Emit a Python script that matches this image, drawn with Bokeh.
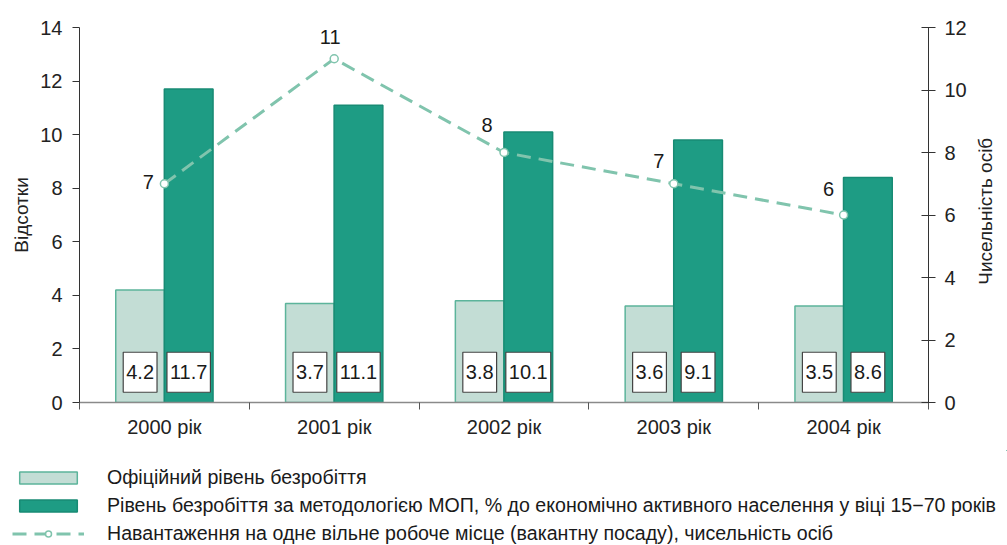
import math
from bokeh.plotting import figure
from bokeh.layouts import row
from bokeh.models import (Range1d, LinearAxis, FixedTicker, ColumnDataSource,
                          Legend, LegendItem, Label)
from bokeh.core.properties import value
from bokeh.transform import dodge
from bokeh.embed import file_html
from bokeh.resources import INLINE

# ---------------- data ----------------
categories = ["2000 рік", "2001 рік", "2002 рік", "2003 рік", "2004 рік"]
official_rate = [4.2, 3.7, 3.8, 3.6, 3.6]          # bar heights, %
ilo_rate = [11.7, 11.1, 10.1, 9.8, 8.4]            # bar heights, %
official_labels = ["4.2", "3.7", "3.8", "3.6", "3.5"]
ilo_labels = ["11.7", "11.1", "10.1", "9.1", "8.6"]
load_per_vacancy = [7, 11, 8, 7, 6]                # persons per vacancy
load_labels = ["7", "11", "8", "7", "6"]
left_ticks = [0, 2, 4, 6, 8, 10, 12, 14]
right_ticks = [0, 2, 4, 6, 8, 10, 12]
left_title = "Відсотки"
right_title = "Чисельність осіб"

legend_labels = [
    "Офіційний рівень безробіття",
    "Рівень безробіття за методологією МОП, % до економічно активного населення у віці 15−70 років",
    "Навантаження на одне вільне робоче місце (вакантну посаду), чисельність осіб",
]

# ---------------- styles ----------------
LIGHT = "#c3ddd5"
LIGHT_EDGE = "#5cb49b"
DARK = "#1e9c84"
DARK_EDGE = "#188b74"
LINE = "#80c4ad"
FONT = "'Liberation Sans', Arial, sans-serif"

label_dx = [-16, -4, -17, -15, -15]
label_dy = [-2, -22, -28, -23, -26]

n = len(categories)
centers = [i + 0.5 for i in range(n)]

src = ColumnDataSource(dict(
    x=centers, official=official_rate, ilo=ilo_rate,
    off_lab=official_labels, ilo_lab=ilo_labels,
    load=load_per_vacancy, load_lab=load_labels,
    dx=label_dx, dy=label_dy,
    box_y=[1.13] * n,
))

p = figure(width=974, height=450, output_backend="svg", toolbar_location=None,
           x_range=Range1d(0, n), y_range=Range1d(0, 14),
           min_border_left=79, min_border_right=46, min_border_top=27,
           min_border_bottom=48)
p.outline_line_color = None
p.xgrid.visible = False
p.ygrid.visible = False
p.background_fill_color = "white"
p.border_fill_color = "white"
p.extra_y_ranges = {"right": Range1d(0, 12)}

# x axis
xa = p.xaxis[0]
xa.ticker = FixedTicker(ticks=centers, minor_ticks=list(range(n + 1)))
xa.major_label_overrides = {c: lab for c, lab in zip(centers, categories)}
xa.major_tick_out = 0
xa.major_tick_in = 0
xa.minor_tick_out = 7
xa.minor_tick_in = 0
xa.minor_tick_line_color = "#555555"
xa.axis_line_color = "#8a8a8a"
xa.axis_line_width = 1.5
xa.major_label_standoff = 6
xa.major_label_text_font = FONT
xa.major_label_text_font_size = "20px"
xa.major_label_text_color = "#222222"

# left axis
ya = p.yaxis[0]
ya.ticker = FixedTicker(ticks=left_ticks)
ya.minor_tick_line_color = None
ya.major_tick_out = 7
ya.major_tick_in = 0
ya.axis_line_color = "#333333"
ya.major_tick_line_color = "#333333"
ya.major_label_standoff = 10
ya.major_label_text_font = FONT
ya.major_label_text_font_size = "20px"
ya.major_label_text_color = "#222222"
ya.axis_label = left_title
ya.axis_label_text_font = FONT
ya.axis_label_text_font_size = "19px"
ya.axis_label_text_font_style = "normal"
ya.axis_label_text_color = "#222222"
ya.axis_label_standoff = 5

# right axis (its title is drawn in the narrow strip to the right)
ra = LinearAxis(y_range_name="right", ticker=FixedTicker(ticks=right_ticks))
ra.minor_tick_line_color = None
ra.major_tick_out = 7
ra.major_tick_in = 7
ra.axis_line_color = "#333333"
ra.major_tick_line_color = "#333333"
ra.major_label_standoff = 9
ra.major_label_text_font = FONT
ra.major_label_text_font_size = "20px"
ra.major_label_text_color = "#222222"
p.add_layout(ra, "right")

# bars
bw = 0.287
off = 0.143
bar_off = dict(fill_color=LIGHT, line_color=LIGHT_EDGE, line_width=1.5)
bar_ilo = dict(fill_color=DARK, line_color=DARK_EDGE, line_width=1.5)
p.vbar(x=dodge("x", -off), top="official", width=bw, source=src, **bar_off)
p.vbar(x=dodge("x", off), top="ilo", width=bw, source=src, **bar_ilo)

# value boxes (text with its own white, framed background)
for col, lab in ((-off, "off_lab"), (off, "ilo_lab")):
    p.text(x=dodge("x", col), y="box_y", text=lab, source=src,
           text_align="center", text_baseline="middle",
           text_font=value(FONT), text_font_size="20px", text_color="#1a1a1a",
           background_fill_color="white", border_line_color="#444444",
           border_line_width=1.2, padding=dict(left=3, right=3, top=13, bottom=13))

# line
line_style = dict(line_color=LINE, line_width=3, line_dash="14 8")
pt_style = dict(marker="circle", size=8, fill_color="white", line_color=LINE, line_width=1.5)
p.line(x="x", y="load", source=src, y_range_name="right", **line_style)
p.scatter(x="x", y="load", source=src, y_range_name="right", **pt_style)
p.text(x="x", y="load", text="load_lab", source=src, y_range_name="right",
       x_offset="dx", y_offset="dy", text_align="center", text_baseline="middle",
       text_font=value(FONT), text_font_size="20px", text_color="#1a1a1a")

# ---------------- right title strip ----------------
rt = figure(width=33, height=450, output_backend="svg", toolbar_location=None,
            x_range=Range1d(0, 1), y_range=Range1d(0, 1),
            x_axis_location=None, y_axis_location=None,
            min_border_left=0, min_border_right=0, min_border_top=27, min_border_bottom=48)
rt.grid.visible = False
rt.outline_line_color = None
rt.add_layout(Label(x=11, y=0.51, x_units="screen", text=right_title, angle=math.pi / 2,
                    text_align="center", text_baseline="middle", text_font=FONT,
                    text_font_size="19px", text_color="#222222"))

# ---------------- legend strip ----------------
lg = figure(width=1007, height=95, output_backend="svg", toolbar_location=None,
            x_range=Range1d(-3, -2), y_range=Range1d(-3, -2),
            x_axis_location=None, y_axis_location=None,
            min_border_left=0, min_border_right=0, min_border_top=0, min_border_bottom=0)
lg.grid.visible = False
lg.outline_line_color = None
# the same series, drawn outside this strip's visible ranges: only their legend glyphs show
g1 = lg.vbar(x="x", top="official", width=0.1, source=src, **bar_off)
g2 = lg.vbar(x="x", top="ilo", width=0.1, source=src, **bar_ilo)
g3 = lg.line(x="x", y="load", source=src, **line_style)
g4 = lg.scatter(x="x", y="load", source=src, **pt_style)

legend = Legend(items=[
    LegendItem(label=legend_labels[0], renderers=[g1]),
    LegendItem(label=legend_labels[1], renderers=[g2]),
    LegendItem(label=legend_labels[2], renderers=[g3, g4]),
], location=(12, 0), orientation="vertical",
    glyph_width=72, glyph_height=15, label_standoff=23, spacing=5,
    padding=0, margin=0, border_line_color=None, background_fill_alpha=0,
    label_text_font=FONT, label_text_font_size="19.6px", label_text_color="#1a1a1a",
    label_height=20)
lg.add_layout(legend, "center")

top = row(p, rt, spacing=0)
open("out.html", "w").write(file_html([top, lg], INLINE))
